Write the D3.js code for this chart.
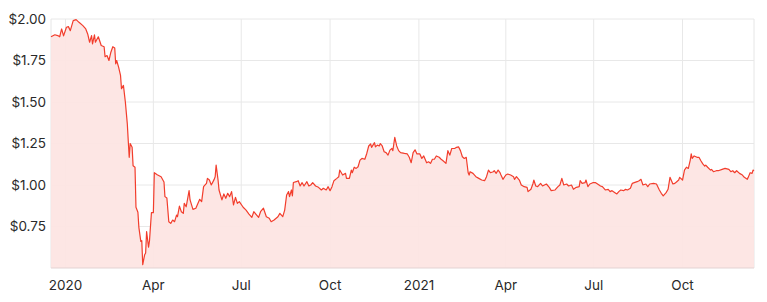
<!DOCTYPE html>
<html>
<head>
<meta charset="utf-8">
<script src="https://cdn.jsdelivr.net/npm/d3@7"></script>
<style>
  body { margin: 0; background: #fff; }
  text { font-family: Inter, "Open Sans", sans-serif; }
</style>
</head>
<body>
<div id="chart"></div>
<script>
/* cours de l'action, dec 2019 -> dec 2021
 * jours comptés depuis le 1er janvier 2020 */
const baseDate = new Date(2020, 0, 1)

const days = [-15,-11,-8,-6,-4,-2,1,3,5,8,11,14,18,21,23,25,27,28,30,31,34,37,40,41,43,45,47,49,51,52,53,55,57,58,60,62,64,65,66,67,69,70,72,73,75,76,78,79,80,82,83,84,86,87,89,91,92,95,99,102,103,105,107,109,111,113,115,116,118,120,122,123,125,128,129,132,135,139,141,143,146,147,149,151,154,155,156,158,159,162,164,166,168,170,172,174,176,178,180,184,187,190,193,195,198,200,202,205,208,211,213,216,220,222,225,227,229,231,232,234,235,236,239,241,243,245,247,250,252,254,256,259,262,265,267,270,272,274,276,278,281,283,284,287,290,291,294,296,297,299,301,303,305,307,310,312,314,316,317,320,321,323,325,326,328,330,332,334,336,338,339,341,343,345,347,351,354,356,358,360,362,364,367,369,371,374,376,378,380,382,384,387,389,391,394,396,398,400,403,405,407,409,411,413,415,417,418,419,422,425,428,431,434,436,438,440,443,444,446,448,450,451,453,456,458,461,464,465,467,470,472,475,478,479,482,484,485,487,489,492,494,498,501,503,507,510,512,514,516,519,521,524,526,529,532,533,535,538,539,541,543,546,549,551,554,556,559,562,564,566,569,571,573,575,578,580,582,585,587,589,592,594,596,598,601,603,605,609,612,615,617,619,622,624,626,629,631,633,635,636,639,641,643,645,647,648,649,651,654,656,658,660,662,663,665,668,669,671,674,676,680,683,687,689,691,693,695,698,701,703,706,707,709,711,712,713]

const prices = [1.893,1.905,1.90,1.893,1.94,1.898,1.95,1.954,1.93,1.99,1.996,1.98,1.96,1.94,1.91,1.86,1.90,1.85,1.905,1.86,1.893,1.84,1.833,1.773,1.78,1.75,1.80,1.833,1.825,1.73,1.75,1.71,1.66,1.58,1.60,1.50,1.37,1.267,1.167,1.25,1.227,1.116,1.107,0.866,0.836,0.745,0.66,0.665,0.52,0.58,0.59,0.72,0.625,0.665,0.833,0.833,1.074,1.062,1.05,1.018,0.93,0.922,0.779,0.769,0.789,0.779,0.819,0.809,0.873,0.839,0.829,0.889,0.869,0.966,0.910,0.853,0.860,0.914,0.90,0.99,1.01,1.04,1.03,1.0,1.034,1.05,1.12,1.03,0.97,0.910,0.946,0.92,0.95,0.93,0.96,0.88,0.926,0.889,0.90,0.866,0.849,0.825,0.805,0.839,0.819,0.805,0.839,0.86,0.809,0.80,0.779,0.789,0.809,0.829,0.809,0.849,0.94,0.96,0.93,0.97,0.935,1.015,1.02,1.026,0.994,1.014,0.994,1.02,0.994,1.0,1.014,0.994,0.986,0.97,0.98,0.97,0.99,0.966,0.99,1.026,1.04,1.05,1.09,1.06,1.07,1.04,1.04,1.09,1.074,1.107,1.10,1.11,1.15,1.16,1.155,1.19,1.235,1.247,1.227,1.255,1.23,1.24,1.235,1.25,1.235,1.20,1.195,1.18,1.21,1.22,1.207,1.287,1.235,1.207,1.195,1.19,1.187,1.167,1.134,1.195,1.212,1.187,1.187,1.16,1.175,1.134,1.14,1.13,1.155,1.155,1.175,1.167,1.155,1.146,1.13,1.207,1.18,1.22,1.22,1.227,1.23,1.207,1.17,1.16,1.167,1.074,1.06,1.08,1.07,1.05,1.04,1.03,1.026,1.05,1.09,1.074,1.08,1.086,1.07,1.09,1.074,1.06,1.034,1.06,1.066,1.06,1.05,1.034,1.05,1.03,1.0,0.99,0.986,0.96,0.974,1.006,1.03,0.994,0.99,1.01,0.994,1.006,0.986,0.966,0.97,0.99,1.0,1.04,1.0,1.006,0.994,1.0,0.974,0.986,0.99,1.026,1.01,1.014,1.03,0.99,1.006,1.014,1.014,1.006,0.994,0.99,0.97,0.974,0.96,0.966,0.954,0.946,0.96,0.97,0.966,0.974,0.97,0.98,1.01,1.014,1.02,1.026,1.034,1.0,1.006,0.99,1.006,1.01,1.006,0.97,0.95,0.934,0.954,0.974,1.046,1.006,1.01,1.02,1.03,1.046,1.03,1.09,1.107,1.10,1.15,1.187,1.16,1.175,1.167,1.167,1.146,1.127,1.114,1.12,1.107,1.09,1.094,1.08,1.086,1.086,1.094,1.10,1.094,1.08,1.086,1.074,1.086,1.07,1.06,1.046,1.034,1.046,1.074,1.07,1.09,1.086]

const yTicks = [0.75, 1.00, 1.25, 1.50, 1.75, 2.00]
const yDomain = [0.5, 2.0]

const data = days.map((d, i) => ({ date: d3.timeDay.offset(baseDate, d), value: prices[i] }))

const margin = { top: 19, right: 13, bottom: 34, left: 51 },
    width = 767 - margin.left - margin.right,
    height = 302 - margin.top - margin.bottom

const svg = d3.select("#chart").append("svg")
    .attr("width", width + margin.left + margin.right)
    .attr("height", height + margin.top + margin.bottom)
  .append("g")
    .attr("transform", "translate(" + margin.left + "," + margin.top + ")")

const x = d3.scaleTime()
    .domain(d3.extent(data, d => d.date))
    .range([0, width])

const y = d3.scaleLinear()
    .domain(yDomain)
    .range([height, 0])

const xTicks = d3.timeMonth.every(3).range(d3.timeMonth.ceil(x.domain()[0]), x.domain()[1])
const fmtX = d => d.getMonth() === 0 ? d3.timeFormat("%Y")(d) : d3.timeFormat("%b")(d)

// grille horizontale
svg.append("g")
  .selectAll("line")
  .data(yTicks)
  .join("line")
    .attr("x1", 0).attr("x2", width)
    .attr("y1", d => y(d)).attr("y2", d => y(d))
    .attr("stroke", "#e8e8e8")

// grille verticale
svg.append("g")
  .selectAll("line")
  .data(xTicks)
  .join("line")
    .attr("x1", d => x(d)).attr("x2", d => x(d))
    .attr("y1", 0).attr("y2", height)
    .attr("stroke", "#e8e8e8")

// bords gauche et droit
svg.append("line").attr("x1", 0).attr("x2", 0).attr("y1", 0).attr("y2", height).attr("stroke", "#e6e6e6")
svg.append("line").attr("x1", width).attr("x2", width).attr("y1", 0).attr("y2", height).attr("stroke", "#e6e6e6")

// aire + ligne
svg.append("path")
    .datum(data)
    .attr("fill", "#fde4e2")
    .attr("fill-opacity", 0.92)
    .attr("d", d3.area().x(d => x(d.date)).y0(height).y1(d => y(d.value)))

svg.append("path")
    .datum(data)
    .attr("fill", "none")
    .attr("stroke", "#f23d2c")
    .attr("stroke-width", 1.2)
    .attr("stroke-linejoin", "round")
    .attr("d", d3.line().x(d => x(d.date)).y(d => y(d.value)))

// axe du bas
svg.append("line").attr("x1", 0).attr("x2", width).attr("y1", height).attr("y2", height).attr("stroke", "#e3d3d3")

// labels
svg.append("g")
  .selectAll("text")
  .data(yTicks)
  .join("text")
    .attr("x", -5)
    .attr("y", d => y(d))
    .attr("dy", "0.35em")
    .attr("text-anchor", "end")
    .attr("font-size", 13.5)
    .attr("fill", "#2a2a2a")
    .text(d => "$" + d3.format(".2f")(d))

svg.append("g")
  .selectAll("text")
  .data(xTicks)
  .join("text")
    .attr("x", d => x(d))
    .attr("y", height + 22)
    .attr("text-anchor", "middle")
    .attr("font-size", 13.5)
    .attr("fill", "#2a2a2a")
    .text(fmtX)
</script>
</body>
</html>
